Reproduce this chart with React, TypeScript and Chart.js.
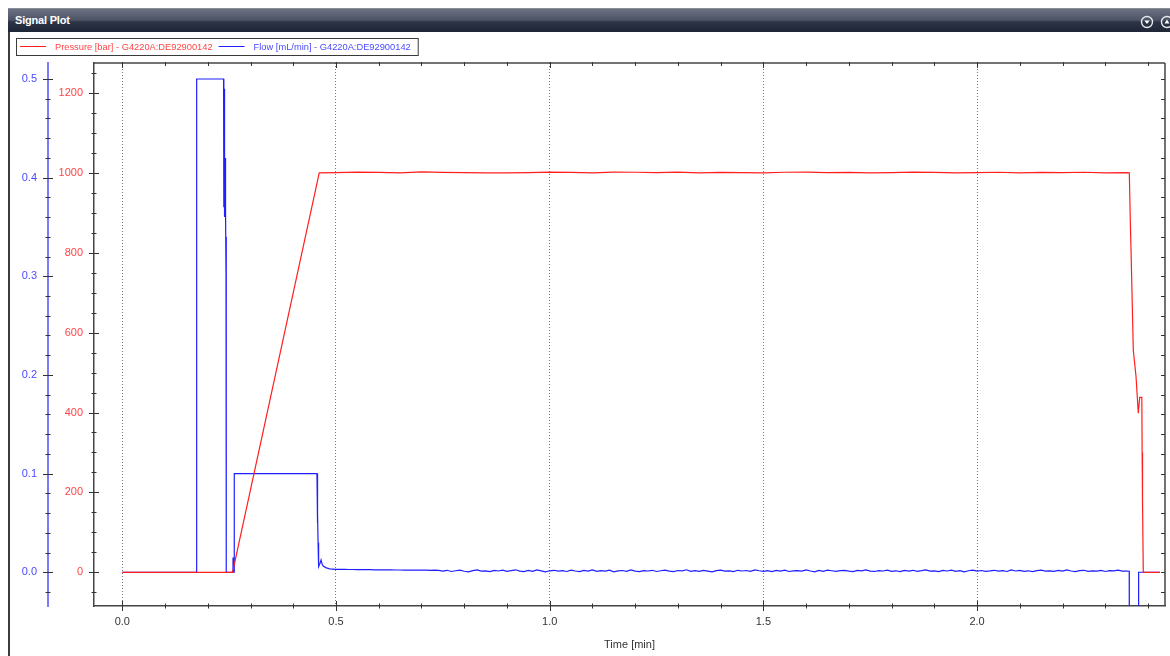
import { useEffect, useRef } from 'react';
import { Chart, registerables } from 'chart.js';

Chart.register(...registerables);

const FONT = '"Liberation Sans", Arial, sans-serif';

const seriesLabels = ['Pressure [bar] - G4220A:DE92900142', 'Flow [mL/min] - G4220A:DE92900142'];
const xTitle = 'Time [min]';
const panelTitle = 'Signal Plot';

// ---- Pressure [bar] ----
const pressureRampTimes = [0, 0.258, 0.4608];
const pressureRampValues = [0, 0, 1000];
const pressurePlateauStart = 0.5;
const pressurePlateauStep = 0.05;
const pressurePlateauValues = [
  1000.5, 1002, 1001, 1000, 1002.5, 1001, 1000.5, 1000, 1000, 1000.5,
  1002, 1001, 1000, 1002, 1001.5, 1000.5, 1002, 1000, 1001, 1000.5,
  1000, 1001.5, 1002, 1000.5, 1001, 1000, 1000.5, 1002, 1001, 1000,
  1000.5, 1001.5, 1000, 1001, 1000.5, 1001.5, 1000, 1000.5,
];
const pressureDropTimes = [2.3562, 2.3585, 2.3602, 2.3625, 2.3655, 2.3719, 2.3772, 2.3805, 2.3855, 2.3862, 2.3868, 2.3874, 2.3889, 2.4279];
const pressureDropValues = [1000, 880, 807, 700, 556, 490, 398, 438, 438, 300, 250, 180, 0, 0];

// ---- Flow [mL/min] ----
const flowStepTimes = [
  0, 0.1738, 0.174, 0.237, 0.2373, 0.2376, 0.2379, 0.2382, 0.2385, 0.2388, 0.2392, 0.2396, 0.2401,
  0.2406, 0.2411, 0.2416, 0.2421, 0.2427, 0.2431, 0.2434, 0.259, 0.2591, 0.2594, 0.2618, 0.262,
  0.4554, 0.4557, 0.456, 0.4564, 0.4568, 0.4572, 0.4576, 0.4581, 0.4586, 0.4593, 0.4601, 0.4626,
  0.4651, 0.4676, 0.4701, 0.4761, 0.485,
];
const flowStepValues = [
  0, 0, 0.5, 0.5, 0.37, 0.5, 0.4, 0.49, 0.36, 0.47, 0.37, 0.44, 0.36,
  0.42, 0.37, 0.39, 0.364, 0.3, 0.34, 0, 0, 0.015, 0, 0, 0.1,
  0.1, 0.092, 0.1, 0.075, 0.088, 0.05, 0.06, 0.03, 0.02, 0.009, 0.0057, 0.009,
  0.0125, 0.008, 0.0064, 0.0047, 0.0035,
];
const flowNoiseStart = 0.5;
const flowNoiseStep = 0.01;
const flowNoiseValues = [
  0.003, 0.0029, 0.0029, 0.0028, 0.0028, 0.0027, 0.0027, 0.0026, 0.0026, 0.0025,
  0.0025, 0.0024, 0.0025, 0.0024, 0.0023, 0.0023, 0.0022, 0.0023, 0.0022, 0.0021,
  0.0022, 0.0021, 0.002, 0.0021, 0.002,
  0.0012, 0.002, 0.0008, 0.0015, 0.0022, 0.001, 0.0005, 0.0017, 0.0024, 0.0011,
  0.0014, 0.0006, 0.0019, 0.0013, 0.0021, 0.0009, 0.0016, 0.0025, 0.0012, 0.0007,
  0.0018, 0.001, 0.0023, 0.0014, 0.0004, 0.0015, 0.002, 0.0011, 0.0017, 0.0008,
  0.0022, 0.0013, 0.0006, 0.0019, 0.0012, 0.0024, 0.0009, 0.0016, 0.0011, 0.0021,
  0.0005, 0.0014, 0.0018, 0.001, 0.0023, 0.0012, 0.0007, 0.0017, 0.0013, 0.002,
  0.0008, 0.0015, 0.0022, 0.0011, 0.0006, 0.0018, 0.0014, 0.0025, 0.001, 0.0016,
  0.0009, 0.0019, 0.0012, 0.0004, 0.0017, 0.0021, 0.0011, 0.0014, 0.0007, 0.002,
  0.0013, 0.0018, 0.0009, 0.0023, 0.0015, 0.001, 0.0016, 0.0006, 0.0019, 0.0012,
  0.0022, 0.0008, 0.0014, 0.0017, 0.0011, 0.0024, 0.0013, 0.0005, 0.0018, 0.001,
  0.0021, 0.0015, 0.0009, 0.0016, 0.002, 0.0012, 0.0007, 0.0019, 0.0014, 0.0023,
  0.0011, 0.0008, 0.0017, 0.0013, 0.0022, 0.001, 0.0015, 0.0006, 0.0018, 0.0012,
  0.002, 0.0009, 0.0016, 0.0024, 0.0011, 0.0014, 0.0007, 0.0019, 0.0013, 0.0021,
  0.001, 0.0017, 0.0005, 0.0015, 0.0022, 0.0012, 0.0018, 0.0009, 0.0014, 0.002,
  0.0011, 0.0016, 0.0008, 0.0023, 0.0013, 0.0019, 0.001, 0.0015, 0.0006, 0.0017,
  0.0021, 0.0012, 0.0014, 0.0009, 0.0018, 0.0011, 0.0024, 0.0013, 0.0007, 0.0016,
  0.002, 0.001, 0.0015, 0.0012, 0.0019, 0.0008, 0.0017, 0.0014, 0.0022, 0.0011,
  0.0013,
];
const flowEndTimes = [2.356, 2.3562, 2.3778, 2.378, 2.4279];
const flowEndValues = [0.001, -0.06, -0.06, 0, 0];

// ---- Axes ----
const timeRange = [-0.0662, 2.4397];
const timeTickValues = [0, 0.1, 0.2, 0.3, 0.4, 0.5, 0.6, 0.7, 0.8, 0.9, 1.0, 1.1, 1.2, 1.3, 1.4, 1.5, 1.6, 1.7, 1.8, 1.9, 2.0, 2.1, 2.2, 2.3, 2.4];
const timeLabelValues = [0, 0.5, 1.0, 1.5, 2.0];

const pressureRange = [-84.4, 1275];
const pressureTickValues = [-50, 0, 50, 100, 150, 200, 250, 300, 350, 400, 450, 500, 550, 600, 650, 700, 750, 800, 850, 900, 950, 1000, 1050, 1100, 1150, 1200, 1250];
const pressureLabelValues = [0, 200, 400, 600, 800, 1000, 1200];

const flowRange = [-0.0342, 0.5162];
const flowTickValues = [-0.02, 0, 0.02, 0.04, 0.06, 0.08, 0.1, 0.12, 0.14, 0.16, 0.18, 0.2, 0.22, 0.24, 0.26, 0.28, 0.3, 0.32, 0.34, 0.36, 0.38, 0.4, 0.42, 0.44, 0.46, 0.48, 0.5];
const flowLabelValues = [0, 0.1, 0.2, 0.3, 0.4, 0.5];

const RED = '#ff1f1f';
const BLUE = '#1f1fff';
const RED_TEXT = '#ff4545';
const BLUE_TEXT = '#4a4aff';

function buildPressure() {
  const pts: { x: number; y: number }[] = [];
  pressureRampTimes.forEach((t, i) => pts.push({ x: t, y: pressureRampValues[i] }));
  pressurePlateauValues.forEach((v, i) => pts.push({ x: +(pressurePlateauStart + i * pressurePlateauStep).toFixed(4), y: v }));
  pressureDropTimes.forEach((t, i) => pts.push({ x: t, y: pressureDropValues[i] }));
  return pts;
}

function buildFlow() {
  const pts: { x: number; y: number }[] = [];
  flowStepTimes.forEach((t, i) => pts.push({ x: t, y: flowStepValues[i] }));
  flowNoiseValues.forEach((v, i) => pts.push({ x: +(flowNoiseStart + i * flowNoiseStep).toFixed(4), y: v }));
  flowEndTimes.forEach((t, i) => pts.push({ x: t, y: flowEndValues[i] }));
  return pts;
}

const axisDecor = {
  id: 'axisDecor',
  afterDraw(chart: any) {
    const { ctx, chartArea } = chart;
    const { left, right, top, bottom } = chartArea;
    const xs = chart.scales.x;
    const ys = chart.scales.y;
    const y1 = chart.scales.y1;
    const seg = (a: number, b: number, c: number, d: number) => {
      ctx.beginPath();
      ctx.moveTo(a, b);
      ctx.lineTo(c, d);
      ctx.stroke();
    };
    ctx.save();
    ctx.lineWidth = 1.5;
    ctx.strokeStyle = '#444';
    seg(left, top, right, top);
    seg(right, top, right, bottom);
    ctx.lineWidth = 1;
    ctx.strokeStyle = '#333';
    xs.ticks.forEach((t: any) => {
      const px = Math.round(xs.getPixelForValue(t.value)) + 0.5;
      const major = t.label !== '';
      const h = major ? 5 : 2.5;
      seg(px, bottom - h, px, bottom + h);
      seg(px, top - 1, px, top + (major ? 5 : 3));
    });
    ys.ticks.forEach((t: any) => {
      const py = Math.round(ys.getPixelForValue(t.value)) + 0.5;
      const h = t.label !== '' ? 5 : 2.5;
      seg(left - h, py, left + h, py);
    });
    const bx = y1.right;
    y1.ticks.forEach((t: any) => {
      const py = Math.round(y1.getPixelForValue(t.value)) + 0.5;
      const h = t.label !== '' ? 5 : 2.5;
      seg(bx - h, py, bx + h, py);
      seg(right - 4, py, right, py);
    });

    // legend box
    ctx.font = `9.3px ${FONT}`;
    ctx.textBaseline = 'middle';
    ctx.textAlign = 'left';
    const ly = 14.5;
    let x = 10;
    const textColors = [RED_TEXT, BLUE_TEXT];
    chart.data.datasets.forEach((ds: any, i: number) => {
      ctx.strokeStyle = ds.borderColor;
      ctx.lineWidth = 1;
      seg(x, ly, x + 26, ly);
      x += 35;
      ctx.fillStyle = textColors[i];
      ctx.fillText(ds.label, x, ly + 0.5);
      x += ctx.measureText(ds.label).width + 6;
    });
    ctx.strokeStyle = '#3a3a3a';
    ctx.lineWidth = 1;
    ctx.strokeRect(6.5, 6.5, x - 6 + 1, 17);
    ctx.restore();
  },
};

function SignalChart() {
  const ref = useRef<HTMLCanvasElement | null>(null);
  useEffect(() => {
    if (!ref.current) return;
    const chart = new Chart(ref.current, {
      type: 'line',
      data: {
        datasets: [
          {
            label: seriesLabels[0],
            data: buildPressure(),
            borderColor: RED,
            backgroundColor: RED,
            borderWidth: 1.2,
            pointRadius: 0,
            tension: 0,
            yAxisID: 'y',
          },
          {
            label: seriesLabels[1],
            data: buildFlow(),
            borderColor: BLUE,
            backgroundColor: BLUE,
            borderWidth: 1.2,
            pointRadius: 0,
            tension: 0,
            yAxisID: 'y1',
          },
        ],
      },
      options: {
        responsive: false,
        animation: false,
        parsing: false as any,
        events: [],
        layout: { padding: { left: 0, right: 5, top: 31, bottom: 0 } },
        plugins: { legend: { display: false }, tooltip: { enabled: false } },
        scales: {
          x: {
            type: 'linear',
            min: timeRange[0],
            max: timeRange[1],
            afterBuildTicks: (s: any) => {
              s.ticks = timeTickValues.map((v) => ({ value: v }));
            },
            afterFit: (s: any) => {
              s.height = 50;
            },
            ticks: {
              autoSkip: false,
              maxRotation: 0,
              padding: 9,
              color: '#333',
              font: { family: FONT, size: 11 },
              callback: (v: any) => (timeLabelValues.includes(v) ? Number(v).toFixed(1) : ''),
            },
            grid: {
              drawTicks: false,
              lineWidth: 1,
              color: (c: any) => (c.tick && timeLabelValues.includes(c.tick.value) ? '#777' : 'rgba(0,0,0,0)'),
            },
            border: { display: true, color: '#444', width: 1.5, dash: [1, 2] },
            title: {
              display: true,
              text: xTitle,
              color: '#333',
              font: { family: FONT, size: 11 },
              padding: { top: 0, bottom: 4 },
            },
          },
          y: {
            type: 'linear',
            position: 'left',
            weight: 0,
            min: pressureRange[0],
            max: pressureRange[1],
            afterBuildTicks: (s: any) => {
              s.ticks = pressureTickValues.map((v) => ({ value: v }));
            },
            afterFit: (s: any) => {
              s.width = 46;
            },
            ticks: {
              autoSkip: false,
              padding: 11,
              color: RED_TEXT,
              font: { family: FONT, size: 11 },
              callback: (v: any) => (pressureLabelValues.includes(v) ? String(v) : ''),
            },
            grid: { display: false, drawTicks: false },
            border: { display: true, color: '#444', width: 1.5 },
          },
          y1: {
            type: 'linear',
            position: 'left',
            weight: 1,
            min: flowRange[0],
            max: flowRange[1],
            afterBuildTicks: (s: any) => {
              s.ticks = flowTickValues.map((v) => ({ value: v }));
            },
            afterFit: (s: any) => {
              s.width = 38;
            },
            ticks: {
              autoSkip: false,
              padding: 11,
              color: BLUE_TEXT,
              font: { family: FONT, size: 11 },
              callback: (v: any) => (flowLabelValues.includes(v) ? Number(v).toFixed(1) : ''),
            },
            grid: { display: false, drawTicks: false },
            border: { display: true, color: '#7b7bff', width: 2 },
          },
        },
      } as any,
      plugins: [axisDecor],
    });
    return () => chart.destroy();
  }, []);
  return <canvas ref={ref} width={1160} height={624} style={{ display: 'block', width: 1160, height: 624 }} />;
}

export default function App() {
  return (
    <div
      style={{
        position: 'fixed',
        left: 8,
        top: 8,
        width: 1162,
        height: 648,
        overflow: 'hidden',
        background: '#fff',
      }}
    >
      <div
        style={{
          position: 'relative',
          height: 24,
          boxSizing: 'border-box',
          borderTop: '1px solid #8a8d96',
          background: 'linear-gradient(to bottom, #6c7282 0px, #5e6475 5px, #4d5366 11px, #2d3446 13px, #1e2536 23px)',
        }}
      >
        <span
          style={{
            position: 'absolute',
            left: 7,
            top: 5,
            color: '#fff',
            font: `bold 11px ${FONT}`,
            letterSpacing: '-0.2px',
          }}
        >
          {panelTitle}
        </span>
        <svg width={40} height={20} style={{ position: 'absolute', left: 1130, top: 3 }}>
          <circle cx={9} cy={10} r={5.5} fill="none" stroke="#e8e8ee" strokeWidth={1.4} />
          <path d="M6.3 8.6 L11.7 8.6 L9 12 Z" fill="#ffffff" />
          <circle cx={29} cy={10} r={5.5} fill="none" stroke="#e8e8ee" strokeWidth={1.4} />
          <path d="M26.5 11.5 L29 7.5 L31.5 11.5 Z" fill="#ffffff" />
        </svg>
      </div>
      <div style={{ borderLeft: '2px solid #3c3c3c', width: 1160, height: 624 }}>
        <SignalChart />
      </div>
    </div>
  );
}
